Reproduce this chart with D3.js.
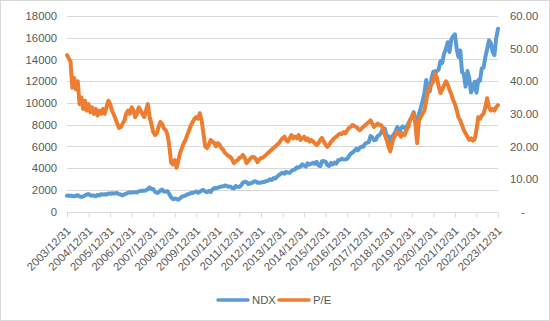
<!DOCTYPE html>
<html>
<head>
<meta charset="utf-8">
<script src="https://cdn.jsdelivr.net/npm/d3@7"></script>
<style>
html,body{margin:0;padding:0;background:#fff;}
svg{display:block;}
text{font-family:"Liberation Sans",Arial,sans-serif;fill:#595959;}
</style>
</head>
<body>
<svg id="chart" width="550" height="321"></svg>
<script>
// Month-end values from 2003/12 to 2023/12
const startYear = 2003, startMonth = 11; // December 2003
const ndx = [
  1467,
  1494,1468,1438,1411,1466,1517,1400,1364,1412,1486,1582,1621,
  1495,1498,1483,1424,1531,1493,1605,1584,1602,1585,1680,1645,
  1698,1676,1703,1720,1596,1575,1509,1595,1655,1737,1787,1757,
  1790,1785,1772,1871,1914,1934,1926,1960,2091,2238,2090,2085,
  1822,1730,1781,1950,2033,1837,1860,1880,1614,1314,1155,1212,
  1176,1099,1237,1384,1432,1477,1600,1632,1719,1717,1789,1860,
  1741,1824,1957,2000,1858,1791,1919,1799,2034,2170,2148,2218,
  2269,2325,2338,2406,2360,2285,2324,2182,2140,2366,2287,2278,
  2454,2659,2755,2722,2540,2616,2647,2773,2799,2660,2677,2661,
  2732,2739,2819,2847,2987,2910,3090,3049,3218,3371,3487,3592,
  3501,3681,3596,3570,3737,3849,3888,4082,4049,4158,4349,4236,
  4151,4453,4334,4415,4509,4397,4590,4275,4181,4648,4665,4593,
  4279,4201,4484,4341,4524,4417,4730,4771,4875,4800,4810,4864,
  5119,5330,5436,5584,5788,5647,5880,5988,5979,6248,6337,6397,
  6950,6854,6581,6605,6967,7040,7272,7680,7628,6967,6949,6330,
  6907,7097,7378,7781,7127,7672,7848,7692,7750,8084,8403,8733,
  9151,8462,7813,9000,9555,10157,10905,12111,11418,11052,12268,12888,
  12925,12909,13091,13860,13687,14554,14959,15582,14689,15850,16135,16320,
  14930,14237,14838,12855,12643,11504,12947,12272,10971,11405,11951,10940,
  12101,12042,13181,13246,14254,14946,15758,15501,14715,14409,15947,16826
];
const pe = [
  48,
  47,46,38,41,37.5,40,33,35,31.5,34,31,33,
  30.5,32,30,31.5,29.5,31,30,31.5,30,32,34,33,
  31,30,28.5,27,25.7,26,27,28,30,31,30,32,
  31,29,30,32,31,30,29,31,33,29,27,24.5,
  23.5,24,26,27.5,27,25.5,25,23.5,20,15,14.5,15.8,
  13.5,15.5,18,19.5,21,22,23.5,25,26.5,27.5,28.5,29,
  28.5,30.2,28,24,20,19.5,20.5,22,21.5,21,20,21,
  20.5,19.5,19,18,17.5,17,16.8,16,14.9,15.5,15.8,16.5,
  16.8,17.4,16.5,14.9,15.5,16.2,16.8,16.8,16.3,15.2,16,16.4,
  16.6,17,17.5,18,18.5,19,19.5,20,20.5,21,21.8,22.5,
  23,22,21.5,22.5,23.5,22.5,23,22.5,23.5,22,22.5,23,
  22,22.5,21.5,22,21.5,21,20.4,21,22,22.6,21.5,20.5,
  19.9,20.5,21.4,22,22.6,23,23.5,24,23.8,24.4,24,25,
  25.7,26,26.6,26.3,26,25.5,25,25.5,26,26.5,27,27.5,
  28,27,26,26.5,27,26.6,26.5,25.5,23.5,22,20,18.5,
  21,22.6,23.5,24.4,24,23,24,23.5,25,26,28,29,
  30,27,21,28,29,30,31,34,37,38,39,40,
  42.5,41,38.5,36.4,37.5,38.8,40,39,37.3,36,34.3,33,
  31,29,28,26.5,25,24,23,22,22.5,21.8,22.2,25,
  29,28.5,29.5,30,32,34.8,32,31,31.5,31,32,32.7
];
const tickLabels = ["2003/12/31","2004/12/31","2005/12/31","2006/12/31","2007/12/31","2008/12/31","2009/12/31","2010/12/31","2011/12/31","2012/12/31","2013/12/31","2014/12/31","2015/12/31","2016/12/31","2017/12/31","2018/12/31","2019/12/31","2020/12/31","2021/12/31","2022/12/31","2023/12/31"];
const leftTicks = [0,2000,4000,6000,8000,10000,12000,14000,16000,18000];
const rightTicks = [0,10,20,30,40,50,60];
const seriesNames = ["NDX","P/E"];
const colors = ["#5b9bd5","#ed7d31"];

const svg = d3.select("#chart");
const W = 550, H = 321;
const plot = {left:67, right:498, top:16, bottom:211.7};
const parse = d3.timeParse("%Y/%m/%d");
const dates = ndx.map((_, i) => new Date(startYear, startMonth + i + 1, 0));

const x = d3.scaleTime().domain([parse(tickLabels[0]), parse(tickLabels[tickLabels.length-1])]).range([plot.left, plot.right]);
const yL = d3.scaleLinear().domain([0,18000]).range([plot.bottom, plot.top]);
const yR = d3.scaleLinear().domain([0,60]).range([plot.bottom, plot.top]);

// chart border
svg.append("rect").attr("x",0.5).attr("y",0.5).attr("width",W-1).attr("height",H-1)
  .attr("fill","#fff").attr("stroke","#d9d9d9");

// gridlines
svg.append("g").selectAll("line").data(leftTicks.slice(1)).join("line")
  .attr("x1",plot.left).attr("x2",plot.right)
  .attr("y1",d=>Math.round(yL(d))+0.5).attr("y2",d=>Math.round(yL(d))+0.5)
  .attr("stroke","#d9d9d9").attr("stroke-width",1);

// left axis
const gL = svg.append("g").attr("transform",`translate(${plot.left-10},0)`)
  .call(d3.axisLeft(yL).tickValues(leftTicks).tickSize(0).tickPadding(0).tickFormat(d3.format("d")));
gL.select(".domain").remove();
gL.selectAll("text").style("font-size","11.3px").attr("fill","#595959").attr("font-family",null);

// right axis
const gR = svg.append("g").attr("transform",`translate(${plot.right+12},0)`)
  .call(d3.axisRight(yR).tickValues(rightTicks).tickSize(0).tickPadding(0)
    .tickFormat(d => d === 0 ? " -" : d3.format(".2f")(d)));
gR.select(".domain").remove();
gR.selectAll("text").style("font-size","11.3px").attr("fill","#595959").attr("font-family",null);
gR.selectAll(".tick").filter(d=>d===0).select("text").attr("dx","11");

// bottom axis
const tickDates = tickLabels.map(parse);
const gX = svg.append("g").attr("transform",`translate(0,${Math.round(plot.bottom)+0.5})`)
  .call(d3.axisBottom(x).tickValues(tickDates).tickSize(5).tickFormat((d,i)=>tickLabels[i]));
gX.select(".domain").attr("stroke","#d9d9d9").attr("d",`M${plot.left},0H${plot.right}`);
gX.selectAll(".tick line").attr("stroke","#d9d9d9");
gX.selectAll(".tick text")
  .attr("font-family",null)
  .style("font-size","11.3px").attr("fill","#595959")
  .attr("text-anchor","end").attr("dy",null).attr("y",null)
  .attr("transform","translate(4,19) rotate(-45)");

// lines
const lineL = d3.line().x((d,i)=>x(dates[i])).y(d=>yL(d));
const lineR = d3.line().x((d,i)=>x(dates[i])).y(d=>yR(d));
svg.append("path").datum(ndx).attr("d",lineL).attr("fill","none")
  .attr("stroke",colors[0]).attr("stroke-width",4).attr("stroke-linejoin","round").attr("stroke-linecap","round");
svg.append("path").datum(pe).attr("d",lineR).attr("fill","none")
  .attr("stroke",colors[1]).attr("stroke-width",4).attr("stroke-linejoin","round").attr("stroke-linecap","round");

// legend
const legX = [218, 279];
const leg = svg.append("g");
seriesNames.forEach((n,i)=>{
  leg.append("line").attr("x1",legX[i]).attr("x2",legX[i]+30).attr("y1",300).attr("y2",300)
    .attr("stroke",colors[i]).attr("stroke-width",3.5).attr("stroke-linecap","round");
  leg.append("text").attr("x",legX[i]+34).attr("y",300).attr("dy","0.35em")
    .style("font-size","11.3px").text(n);
});
</script>
</body>
</html>
